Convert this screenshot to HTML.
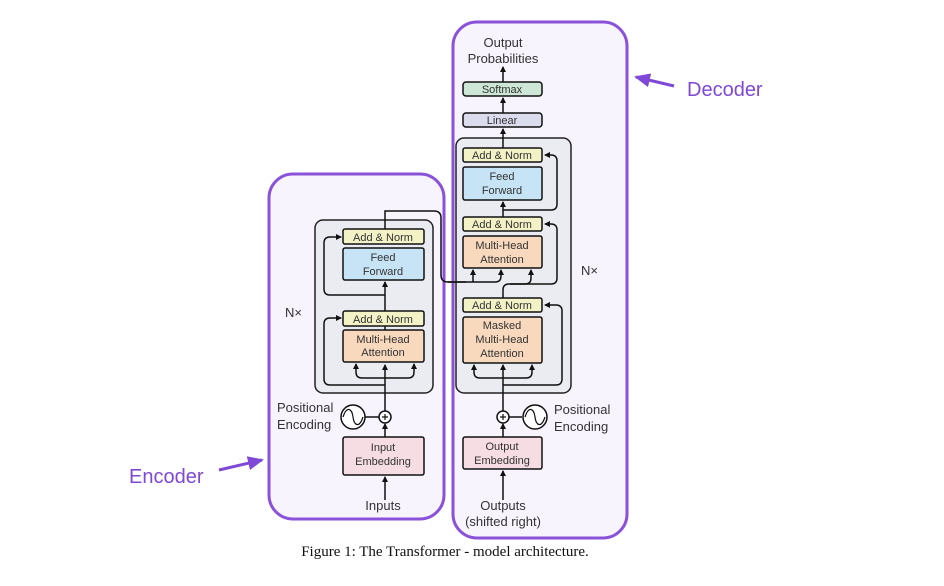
<!DOCTYPE html>
<html><head><meta charset="utf-8"><style>
html,body{margin:0;padding:0;background:#fff;}
svg{display:block;}
text{font-family:"Liberation Sans",sans-serif;}
</style></head><body>
<svg width="944" height="586" viewBox="0 0 944 586" xmlns="http://www.w3.org/2000/svg">
<defs>
<marker id="a" markerWidth="6" markerHeight="6" refX="5" refY="3" orient="auto" markerUnits="userSpaceOnUse"><path d="M0,0 L6,3 L0,6 z" fill="#111"/></marker>
<marker id="p" markerWidth="16" markerHeight="14" refX="14" refY="7" orient="auto" markerUnits="userSpaceOnUse"><path d="M0,0 L16,7 L0,14 z" fill="#7f48d6"/></marker>
</defs>
<rect x="269" y="174" width="175" height="345" rx="24" fill="#f7f4fd" stroke="#8a52d9" stroke-width="3"/>
<rect x="453" y="22" width="174" height="516" rx="24" fill="#f7f4fd" stroke="#8a52d9" stroke-width="3"/>
<rect x="315" y="220" width="118" height="173" rx="8" fill="#ebebf2" stroke="#222" stroke-width="1.5"/>
<rect x="456" y="138" width="115" height="255" rx="8" fill="#ebebf2" stroke="#222" stroke-width="1.5"/>
<g stroke="#111" stroke-width="1.5" fill="none">
<line x1="385" y1="500" x2="385" y2="477" marker-end="url(#a)"/>
<line x1="385" y1="437" x2="385" y2="424" marker-end="url(#a)"/>
<line x1="385" y1="411" x2="385" y2="365" marker-end="url(#a)"/>
<path d="M385,378 H362 Q356,378 356,372 V364" marker-end="url(#a)"/>
<path d="M385,378 H408 Q414,378 414,372 V364" marker-end="url(#a)"/>
<line x1="385" y1="330" x2="385" y2="282" marker-end="url(#a)"/>
<path d="M385,385 H330 Q324,385 324,379 V324 Q324,318 330,318 H341" marker-end="url(#a)"/>
<path d="M385,295 H330 Q324,295 324,289 V243 Q324,237 330,237 H341" marker-end="url(#a)"/>
<path d="M385,229 V211 H434 Q441,211 441,218 V275 Q441,282 448,282 H466"/>
<path d="M473,282 V270" marker-end="url(#a)"/>
<path d="M448,282 H495 Q501,282 501,276 V270" marker-end="url(#a)"/>
<path d="M365,417 H379"/>
<line x1="503" y1="500" x2="503" y2="471" marker-end="url(#a)"/>
<line x1="503" y1="437" x2="503" y2="424" marker-end="url(#a)"/>
<line x1="503" y1="411" x2="503" y2="365" marker-end="url(#a)"/>
<path d="M503,378 H480 Q474,378 474,372 V365" marker-end="url(#a)"/>
<path d="M503,378 H526 Q532,378 532,372 V365" marker-end="url(#a)"/>
<path d="M509,417 H522"/>
<path d="M503,385 H556 Q562,385 562,379 V311 Q562,305 556,305 H545" marker-end="url(#a)"/>
<path d="M503,298 V290 Q503,284 509,284 H525 Q531,284 531,278 V270" marker-end="url(#a)"/>
<path d="M510,284 H551 Q557,284 557,278 V230 Q557,224 551,224 H545" marker-end="url(#a)"/>
<line x1="503" y1="217" x2="503" y2="202" marker-end="url(#a)"/>
<path d="M503,210 H551 Q557,210 557,204 V161 Q557,155 551,155 H545" marker-end="url(#a)"/>
<line x1="503" y1="148" x2="503" y2="129" marker-end="url(#a)"/>
<line x1="503" y1="113" x2="503" y2="98" marker-end="url(#a)"/>
<line x1="503" y1="82" x2="503" y2="67" marker-end="url(#a)"/>
</g>
<g stroke="#111" stroke-width="1.5">
<rect x="343" y="229" width="81" height="15" rx="2" fill="#f3f2c6"/>
<rect x="343" y="248" width="81" height="32" rx="2" fill="#c7e4f7"/>
<rect x="343" y="311" width="81" height="15" rx="2" fill="#f3f2c6"/>
<rect x="343" y="330" width="81" height="32" rx="2" fill="#f8d9bd"/>
<rect x="343" y="437" width="81" height="38" rx="2" fill="#f6dce3"/>
<rect x="463" y="82" width="79" height="14" rx="3" fill="#cde6d5"/>
<rect x="463" y="113" width="79" height="14" rx="3" fill="#dcdcef"/>
<rect x="463" y="148" width="79" height="14" rx="2" fill="#f3f2c6"/>
<rect x="463" y="167" width="79" height="33" rx="2" fill="#c7e4f7"/>
<rect x="463" y="217" width="79" height="14" rx="2" fill="#f3f2c6"/>
<rect x="463" y="236" width="79" height="32" rx="2" fill="#f8d9bd"/>
<rect x="463" y="298" width="79" height="14" rx="2" fill="#f3f2c6"/>
<rect x="463" y="317" width="79" height="46" rx="2" fill="#f8d9bd"/>
<rect x="463" y="437" width="79" height="32" rx="2" fill="#f6dce3"/>
<circle cx="385" cy="417" r="6" fill="#fff"/>
<circle cx="503" cy="417" r="6" fill="#fff"/>
<circle cx="353" cy="417" r="12" fill="#fff"/>
<circle cx="535" cy="417" r="12" fill="#fff"/>
</g>
<g stroke="#111" stroke-width="1.2" fill="none">
<path d="M382,417 H388 M385,414 V420 M500,417 H506 M503,414 V420"/>
<path d="M343,417 C347,405 352,409 353,417 C354,425 359,429 363,417"/>
<path d="M525,417 C529,405 534,409 535,417 C536,425 541,429 545,417"/>
</g>
<g font-size="11" fill="#333" text-anchor="middle">
<text x="383" y="241">Add &amp; Norm</text>
<text x="383" y="261">Feed</text><text x="383" y="275">Forward</text>
<text x="383" y="323">Add &amp; Norm</text>
<text x="383" y="343">Multi-Head</text><text x="383" y="356">Attention</text>
<text x="383" y="451">Input</text><text x="383" y="465">Embedding</text>
<text x="502" y="93">Softmax</text>
<text x="502" y="124">Linear</text>
<text x="502" y="159">Add &amp; Norm</text>
<text x="502" y="180">Feed</text><text x="502" y="194">Forward</text>
<text x="502" y="228">Add &amp; Norm</text>
<text x="502" y="249">Multi-Head</text><text x="502" y="263">Attention</text>
<text x="502" y="309">Add &amp; Norm</text>
<text x="502" y="329">Masked</text><text x="502" y="343">Multi-Head</text><text x="502" y="357">Attention</text>
<text x="502" y="450">Output</text><text x="502" y="464">Embedding</text>
</g>
<g font-size="13" fill="#333">
<text x="383" y="510" text-anchor="middle">Inputs</text>
<text x="503" y="510" text-anchor="middle">Outputs</text>
<text x="503" y="526" text-anchor="middle">(shifted right)</text>
<text x="503" y="47" text-anchor="middle">Output</text>
<text x="503" y="63" text-anchor="middle">Probabilities</text>
<text x="277" y="412">Positional</text>
<text x="277" y="429">Encoding</text>
<text x="554" y="414">Positional</text>
<text x="554" y="431">Encoding</text>
<text x="285" y="317">N×</text>
<text x="581" y="275">N×</text>
</g>
<g fill="#7f48d6" font-size="20">
<text x="687" y="96">Decoder</text>
<text x="129" y="483">Encoder</text>
</g>
<line x1="674" y1="86" x2="636" y2="77" stroke="#7f48d6" stroke-width="3" marker-end="url(#p)"/>
<line x1="219" y1="470" x2="262" y2="460" stroke="#7f48d6" stroke-width="3" marker-end="url(#p)"/>
<text x="445" y="556" text-anchor="middle" font-size="15" fill="#111" style="font-family:'Liberation Serif',serif">Figure 1: The Transformer - model architecture.</text>
</svg>
</body></html>
